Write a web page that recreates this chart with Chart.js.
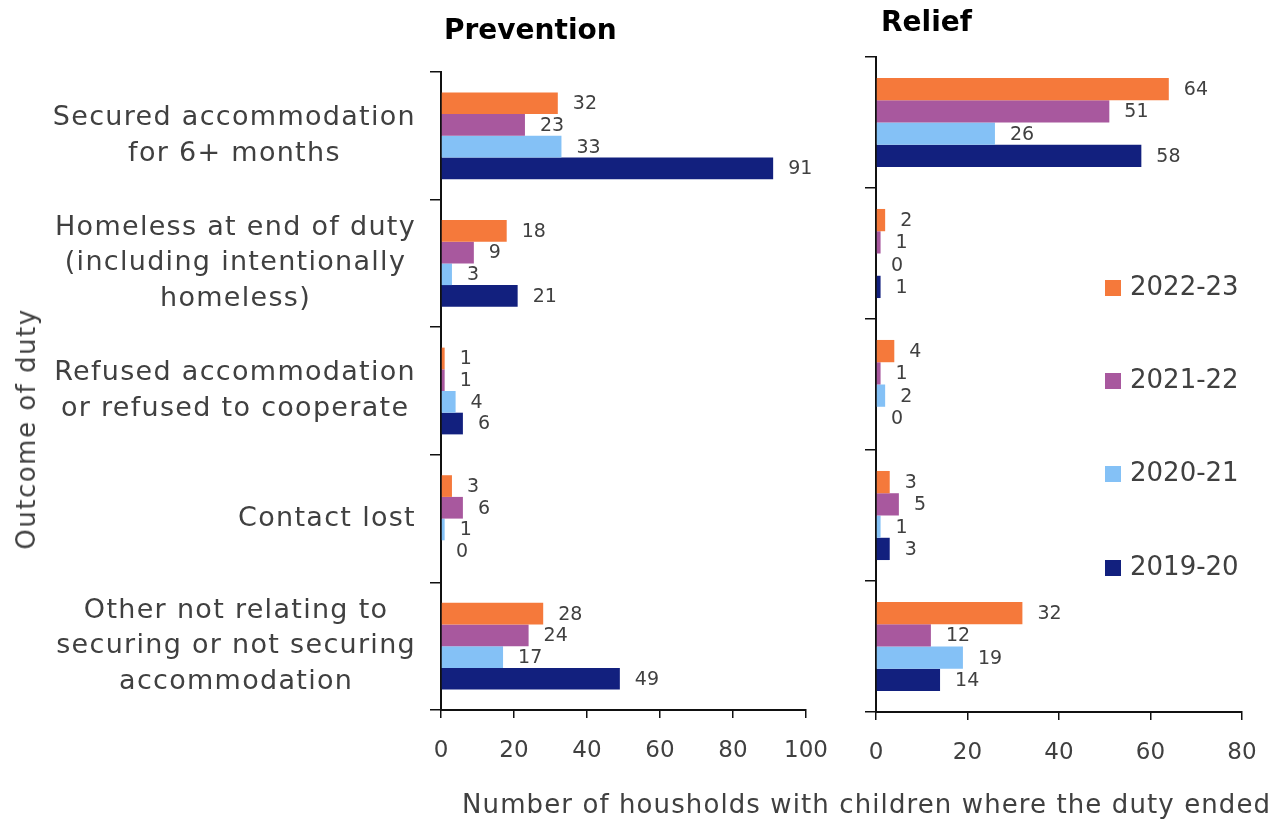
<!DOCTYPE html>
<html>
<head>
<meta charset="utf-8">
<script src="https://cdn.jsdelivr.net/npm/chart.js@4"></script>
<style>
  body { margin: 0; background: #fff; width: 1288px; height: 823px; overflow: hidden; position: relative;
         font-family: "DejaVu Sans", sans-serif; color: #404040; }
  canvas { position: absolute; top: 0; }
  #prev { left: 0; }
  #relief { left: 840px; }
  .panel-title { position: absolute; font-weight: bold; font-size: 28px; color: #000; }
  .legend { position: absolute; left: 1105px; font-size: 26px; color: #404040; }
  .legend span { display: inline-block; width: 16px; height: 16px; margin-right: 9px; vertical-align: -1px; }
  #xtitle { position: absolute; left: 462px; top: 789px; font-size: 26px; letter-spacing: 1.1px; white-space: nowrap; }
  #ytitle { position: absolute; left: 26px; top: 429px; font-size: 26px; letter-spacing: 1.5px; white-space: nowrap;
            transform: translate(-50%, -50%) rotate(-90deg); }
</style>
</head>
<body>
<canvas id="prev" width="880" height="823"></canvas>
<canvas id="relief" width="448" height="823"></canvas>
<div class="panel-title" style="left:444px; top:13px;">Prevention</div>
<div class="panel-title" style="left:881px; top:5px;">Relief</div>
<div id="legend"></div>
<div id="xtitle">Number of housholds with children where the duty ended</div>
<div id="ytitle">Outcome of duty</div>

<script>
// Outcome categories, top to bottom
const outcomes = [
  ['Secured accommodation', 'for 6+ months'],
  ['Homeless at end of duty', '(including intentionally', 'homeless)'],
  ['Refused accommodation', 'or refused to cooperate'],
  ['Contact lost'],
  ['Other not relating to', 'securing or not securing', 'accommodation']
];

const years = ['2022-23', '2021-22', '2020-21', '2019-20'];
const yearColors = ['#F5793B', '#A8589E', '#84C1F6', '#12207E'];

// Prevention duty, one array per year
const prev2223 = [32, 18, 1, 3, 28];
const prev2122 = [23, 9, 1, 6, 24];
const prev2021 = [33, 3, 4, 1, 17];
const prev1920 = [91, 21, 6, 0, 49];

// Relief duty, one array per year
const relief2223 = [64, 2, 4, 3, 32];
const relief2122 = [51, 1, 1, 5, 12];
const relief2021 = [26, 0, 2, 1, 19];
const relief1920 = [58, 1, 0, 3, 14];

const prevTicks = { max: 100, step: 20 };
const reliefTicks = { max: 80, step: 20 };

const FONT = '"DejaVu Sans", sans-serif';

// Value labels to the right of each bar
const valueLabels = {
  id: 'valueLabels',
  afterDatasetsDraw(chart) {
    const ctx = chart.ctx;
    ctx.save();
    ctx.font = '19px ' + FONT;
    ctx.fillStyle = '#404040';
    ctx.textBaseline = 'middle';
    chart.data.datasets.forEach((ds, i) => {
      chart.getDatasetMeta(i).data.forEach((bar, j) => {
        ctx.fillText(String(ds.data[j]), bar.x + 15, bar.y + 1);
      });
    });
    ctx.restore();
  }
};

// Multi-line category labels: each block centred on itself, block right-aligned to the axis
const categoryLabels = {
  id: 'categoryLabels',
  afterDraw(chart, args, opts) {
    if (!opts.show) return;
    const ctx = chart.ctx;
    const yScale = chart.scales.y;
    ctx.save();
    ctx.font = '27px ' + FONT;
    ctx.letterSpacing = '1.3px';
    ctx.fillStyle = '#404040';
    ctx.textAlign = 'center';
    ctx.textBaseline = 'middle';
    outcomes.forEach((lines, i) => {
      const w = Math.max(...lines.map(l => ctx.measureText(l).width));
      const cx = opts.right - w / 2;
      const cy = yScale.getPixelForValue(i);
      lines.forEach((l, k) => {
        ctx.fillText(l, cx, cy + (k - (lines.length - 1) / 2) * 35.5);
      });
    });
    ctx.letterSpacing = '0px';
    ctx.restore();
  }
};

function makeChart(id, series, ticks, box) {
  return new Chart(document.getElementById(id), {
    type: 'bar',
    data: {
      labels: outcomes.map(l => l.join(' ')),
      datasets: series.map((data, i) => ({
        label: years[i],
        data,
        backgroundColor: yearColors[i],
        borderWidth: 0,
        categoryPercentage: 0.68,
        barPercentage: 1.0
      }))
    },
    options: {
      indexAxis: 'y',
      responsive: false,
      animation: false,
      devicePixelRatio: 1,
      layout: { padding: { top: box.top, right: box.right, left: 0, bottom: 0 } },
      plugins: {
        legend: { display: false },
        tooltip: { enabled: false },
        categoryLabels: { show: box.showLabels, right: 416 }
      },
      scales: {
        x: {
          min: 0, max: ticks.max,
          afterFit: s => { s.height = box.xHeight; },
          border: { display: true, color: '#111', width: 2 },
          grid: { drawOnChartArea: false, drawTicks: true, tickLength: 8, color: '#111', lineWidth: 1.5 },
          ticks: { stepSize: ticks.step, color: '#404040', padding: 19, font: { family: FONT, size: 23 } }
        },
        y: {
          afterFit: s => { s.width = box.yWidth; },
          border: { display: true, color: '#111', width: 2 },
          grid: { offset: true, drawOnChartArea: false, drawTicks: true, tickLength: 11, color: '#111', lineWidth: 1.5 },
          ticks: { display: false }
        }
      }
    },
    plugins: [valueLabels, categoryLabels]
  });
}

makeChart('prev', [prev2223, prev2122, prev2021, prev1920], prevTicks,
  { top: 72, right: 74, xHeight: 113, yWidth: 441, showLabels: true });
makeChart('relief', [relief2223, relief2122, relief2021, relief1920], reliefTicks,
  { top: 57, right: 46, xHeight: 111, yWidth: 36, showLabels: false });

// Legend, stacked on the right of the relief panel
const legendTops = [271, 364, 457, 551];
const legend = document.getElementById('legend');
years.forEach((y, i) => {
  const d = document.createElement('div');
  d.className = 'legend';
  d.style.top = legendTops[i] + 'px';
  d.innerHTML = '<span style="background:' + yearColors[i] + '"></span>' + y;
  legend.appendChild(d);
});
</script>
</body>
</html>
